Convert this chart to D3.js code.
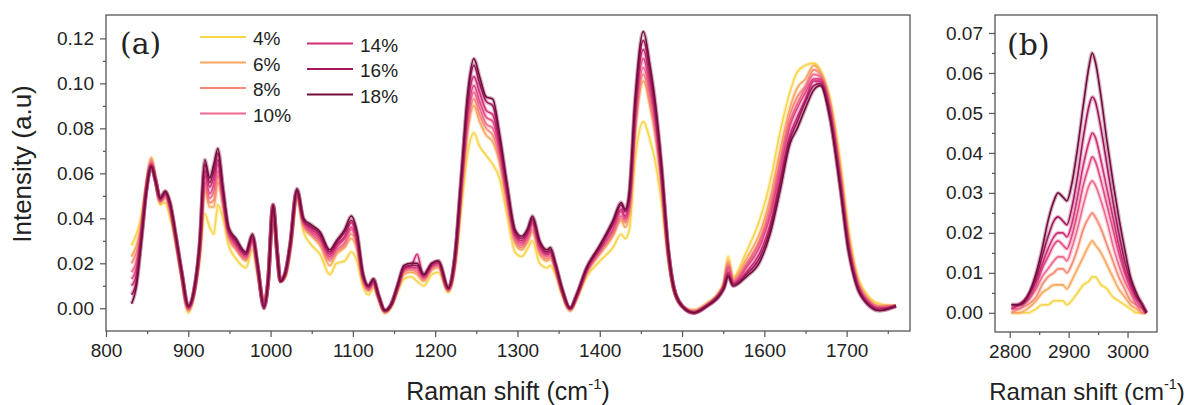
<!DOCTYPE html>
<html>
<head>
<meta charset="utf-8">
<script src="https://cdn.jsdelivr.net/npm/d3@7"></script>
<style>
body { margin: 0; background: #fff; }
text { font-family: "Liberation Sans", Arial, sans-serif; fill: #222; }
</style>
</head>
<body>
<div id="chart"></div>
<script>
// Data : panel (a) fingerprint region
var wnA = [831, 837, 843, 849, 855, 860, 866, 872, 878, 885,
    892, 900, 907, 914, 920, 926, 931, 936, 942, 949,
    958, 970, 978, 984, 992, 997, 1003, 1008, 1012, 1018,
    1024, 1032, 1040, 1050, 1060, 1072, 1080, 1090, 1098, 1105,
    1112, 1119, 1125, 1131, 1139, 1147, 1155, 1162, 1171, 1178,
    1186, 1196, 1204, 1216, 1224, 1232, 1240, 1247, 1254, 1262,
    1270, 1278, 1287, 1297, 1305, 1313, 1318, 1327, 1336, 1340,
    1346, 1354, 1364, 1372, 1384, 1400, 1416, 1426, 1431, 1436,
    1443, 1453, 1461, 1467, 1475, 1483, 1490, 1500, 1514, 1530,
    1546, 1551, 1556, 1562, 1578, 1595, 1607, 1619, 1631, 1640,
    1650, 1660, 1668, 1680, 1692, 1702, 1712, 1725, 1740, 1760];

var a04 = [0.028, 0.033, 0.041, 0.055, 0.066, 0.058, 0.046, 0.047, 0.040, 0.028,
    0.013, -0.002, 0.006, 0.022, 0.042, 0.036, 0.033, 0.046, 0.040, 0.028,
    0.022, 0.018, 0.026, 0.015, 0.004, 0.012, 0.044, 0.024, 0.012, 0.014,
    0.026, 0.050, 0.034, 0.028, 0.024, 0.015, 0.020, 0.021, 0.025, 0.021,
    0.010, 0.006, 0.009, 0.004, -0.002, 0.001, 0.008, 0.013, 0.014, 0.012,
    0.010, 0.015, 0.016, 0.007, 0.018, 0.045, 0.070, 0.078, 0.072, 0.068,
    0.064, 0.058, 0.042, 0.025, 0.023, 0.027, 0.030, 0.020, 0.018, 0.019,
    0.015, 0.006, -0.001, 0.004, 0.014, 0.021, 0.027, 0.033, 0.031, 0.035,
    0.066, 0.083, 0.075, 0.066, 0.047, 0.022, 0.008, 0.001, -0.001, 0.002,
    0.008, 0.012, 0.023, 0.014, 0.025, 0.040, 0.056, 0.078, 0.096, 0.105,
    0.108, 0.109, 0.106, 0.093, 0.066, 0.036, 0.016, 0.006, 0.002, 0.001];
var a06 = [0.023, 0.028, 0.038, 0.054, 0.067, 0.058, 0.047, 0.049, 0.043, 0.030,
    0.014, -0.001, 0.007, 0.025, 0.052, 0.045, 0.045, 0.056, 0.046, 0.031,
    0.026, 0.021, 0.029, 0.017, 0.002, 0.012, 0.045, 0.024, 0.012, 0.015,
    0.027, 0.051, 0.036, 0.032, 0.028, 0.019, 0.024, 0.027, 0.031, 0.026,
    0.012, 0.008, 0.011, 0.005, -0.002, 0.001, 0.009, 0.015, 0.016, 0.015,
    0.012, 0.017, 0.018, 0.008, 0.020, 0.051, 0.080, 0.090, 0.083, 0.077,
    0.074, 0.065, 0.047, 0.029, 0.026, 0.030, 0.034, 0.024, 0.021, 0.022,
    0.017, 0.007, -0.001, 0.005, 0.016, 0.024, 0.032, 0.039, 0.036, 0.042,
    0.078, 0.101, 0.090, 0.078, 0.055, 0.024, 0.008, 0.001, -0.001, 0.002,
    0.007, 0.011, 0.021, 0.013, 0.022, 0.034, 0.049, 0.070, 0.089, 0.098,
    0.102, 0.108, 0.105, 0.091, 0.062, 0.033, 0.014, 0.005, 0.001, 0.001];
var a08 = [0.020, 0.025, 0.036, 0.054, 0.066, 0.058, 0.047, 0.050, 0.044, 0.030,
    0.015, -0.001, 0.007, 0.026, 0.054, 0.047, 0.048, 0.059, 0.047, 0.032,
    0.027, 0.022, 0.030, 0.018, 0.002, 0.012, 0.045, 0.024, 0.012, 0.015,
    0.027, 0.051, 0.037, 0.033, 0.029, 0.021, 0.025, 0.028, 0.033, 0.028,
    0.013, 0.008, 0.011, 0.005, -0.002, 0.002, 0.010, 0.016, 0.017, 0.016,
    0.013, 0.018, 0.019, 0.008, 0.021, 0.053, 0.082, 0.093, 0.086, 0.080,
    0.077, 0.067, 0.048, 0.030, 0.027, 0.031, 0.035, 0.025, 0.022, 0.023,
    0.018, 0.008, -0.001, 0.005, 0.016, 0.025, 0.033, 0.040, 0.038, 0.044,
    0.080, 0.104, 0.092, 0.080, 0.056, 0.025, 0.009, 0.001, -0.001, 0.002,
    0.007, 0.011, 0.020, 0.012, 0.020, 0.031, 0.046, 0.066, 0.086, 0.094,
    0.099, 0.106, 0.104, 0.090, 0.061, 0.031, 0.013, 0.004, 0.001, 0.001];
var a10 = [0.016, 0.021, 0.035, 0.053, 0.065, 0.057, 0.048, 0.050, 0.044, 0.030,
    0.015, 0.000, 0.007, 0.027, 0.056, 0.049, 0.052, 0.061, 0.048, 0.033,
    0.027, 0.022, 0.030, 0.018, 0.002, 0.012, 0.045, 0.025, 0.012, 0.015,
    0.028, 0.052, 0.038, 0.033, 0.030, 0.022, 0.026, 0.029, 0.035, 0.029,
    0.014, 0.008, 0.011, 0.005, -0.001, 0.002, 0.010, 0.017, 0.018, 0.017,
    0.013, 0.018, 0.019, 0.008, 0.021, 0.054, 0.085, 0.096, 0.089, 0.082,
    0.080, 0.069, 0.050, 0.031, 0.028, 0.032, 0.037, 0.026, 0.023, 0.024,
    0.018, 0.008, 0.000, 0.005, 0.016, 0.025, 0.034, 0.041, 0.039, 0.045,
    0.082, 0.107, 0.095, 0.082, 0.057, 0.025, 0.009, 0.001, -0.002, 0.001,
    0.007, 0.010, 0.019, 0.012, 0.019, 0.030, 0.043, 0.064, 0.083, 0.091,
    0.098, 0.104, 0.103, 0.089, 0.059, 0.030, 0.013, 0.004, 0.000, 0.001];
var a12 = [0.013, 0.018, 0.034, 0.053, 0.064, 0.057, 0.048, 0.051, 0.045, 0.031,
    0.015, 0.000, 0.007, 0.028, 0.059, 0.051, 0.055, 0.064, 0.050, 0.034,
    0.028, 0.023, 0.031, 0.019, 0.001, 0.012, 0.045, 0.025, 0.012, 0.015,
    0.028, 0.052, 0.038, 0.034, 0.031, 0.023, 0.027, 0.031, 0.036, 0.030,
    0.014, 0.009, 0.012, 0.005, -0.001, 0.002, 0.010, 0.017, 0.018, 0.018,
    0.014, 0.019, 0.020, 0.008, 0.022, 0.056, 0.087, 0.099, 0.092, 0.085,
    0.083, 0.071, 0.051, 0.032, 0.029, 0.033, 0.038, 0.027, 0.024, 0.025,
    0.019, 0.008, 0.000, 0.005, 0.017, 0.026, 0.035, 0.043, 0.040, 0.047,
    0.085, 0.111, 0.098, 0.085, 0.059, 0.026, 0.009, 0.001, -0.002, 0.001,
    0.007, 0.010, 0.018, 0.011, 0.018, 0.028, 0.041, 0.061, 0.081, 0.089,
    0.096, 0.102, 0.102, 0.088, 0.058, 0.029, 0.012, 0.003, 0.000, 0.001];
var a14 = [0.010, 0.015, 0.032, 0.053, 0.064, 0.057, 0.048, 0.051, 0.046, 0.031,
    0.016, 0.000, 0.008, 0.028, 0.061, 0.054, 0.058, 0.066, 0.051, 0.034,
    0.029, 0.024, 0.032, 0.019, 0.001, 0.012, 0.046, 0.025, 0.012, 0.016,
    0.028, 0.052, 0.039, 0.035, 0.032, 0.024, 0.028, 0.032, 0.038, 0.031,
    0.015, 0.009, 0.012, 0.006, -0.001, 0.002, 0.010, 0.018, 0.019, 0.024,
    0.014, 0.019, 0.020, 0.009, 0.022, 0.057, 0.091, 0.103, 0.096, 0.088,
    0.086, 0.073, 0.053, 0.033, 0.030, 0.034, 0.039, 0.028, 0.024, 0.025,
    0.019, 0.008, 0.000, 0.006, 0.017, 0.027, 0.037, 0.044, 0.041, 0.049,
    0.088, 0.115, 0.101, 0.088, 0.061, 0.026, 0.009, 0.001, -0.002, 0.001,
    0.006, 0.010, 0.016, 0.011, 0.016, 0.025, 0.037, 0.057, 0.077, 0.085,
    0.093, 0.101, 0.101, 0.086, 0.056, 0.028, 0.011, 0.003, 0.000, 0.001];
var a16 = [0.006, 0.012, 0.031, 0.052, 0.063, 0.057, 0.049, 0.052, 0.046, 0.032,
    0.016, 0.001, 0.008, 0.029, 0.064, 0.056, 0.061, 0.069, 0.053, 0.035,
    0.030, 0.024, 0.032, 0.020, 0.000, 0.012, 0.046, 0.025, 0.012, 0.016,
    0.029, 0.053, 0.039, 0.036, 0.033, 0.025, 0.029, 0.034, 0.039, 0.033,
    0.015, 0.010, 0.013, 0.006, -0.001, 0.002, 0.011, 0.018, 0.019, 0.019,
    0.015, 0.020, 0.021, 0.009, 0.023, 0.059, 0.095, 0.108, 0.100, 0.092,
    0.090, 0.076, 0.055, 0.034, 0.031, 0.035, 0.040, 0.029, 0.025, 0.026,
    0.020, 0.009, 0.000, 0.006, 0.018, 0.027, 0.038, 0.046, 0.043, 0.050,
    0.090, 0.119, 0.105, 0.090, 0.062, 0.027, 0.009, 0.001, -0.002, 0.001,
    0.006, 0.009, 0.015, 0.010, 0.015, 0.023, 0.035, 0.055, 0.075, 0.083,
    0.092, 0.099, 0.100, 0.085, 0.055, 0.027, 0.011, 0.002, -0.001, 0.001];
var a18 = [0.002, 0.010, 0.030, 0.052, 0.063, 0.057, 0.049, 0.052, 0.047, 0.032,
    0.016, 0.001, 0.008, 0.030, 0.066, 0.058, 0.064, 0.071, 0.054, 0.036,
    0.031, 0.025, 0.033, 0.020, 0.000, 0.012, 0.046, 0.025, 0.012, 0.016,
    0.029, 0.053, 0.040, 0.037, 0.034, 0.026, 0.030, 0.035, 0.041, 0.034,
    0.016, 0.010, 0.013, 0.006, -0.001, 0.002, 0.011, 0.019, 0.020, 0.020,
    0.015, 0.020, 0.021, 0.009, 0.023, 0.060, 0.097, 0.111, 0.103, 0.094,
    0.093, 0.078, 0.056, 0.035, 0.032, 0.036, 0.041, 0.030, 0.026, 0.027,
    0.020, 0.009, 0.000, 0.006, 0.018, 0.028, 0.039, 0.047, 0.044, 0.052,
    0.093, 0.123, 0.108, 0.093, 0.064, 0.027, 0.009, 0.001, -0.002, 0.001,
    0.006, 0.009, 0.014, 0.010, 0.014, 0.021, 0.033, 0.052, 0.073, 0.080,
    0.089, 0.097, 0.099, 0.084, 0.054, 0.026, 0.010, 0.002, -0.001, 0.001];

// Data : panel (b) CH stretching region
var wnB = [2803, 2815, 2830, 2845, 2855, 2865, 2875, 2882, 2890, 2897,
    2905, 2915, 2925, 2935, 2940, 2945, 2955, 2965, 2975, 2985,
    2995, 3005, 3015, 3025, 3032];
var b04 = [0.000, 0.000, 0.000, 0.001, 0.002, 0.002, 0.003, 0.003, 0.003, 0.002,
    0.003, 0.005, 0.007, 0.008, 0.009, 0.009, 0.007, 0.006, 0.004, 0.003,
    0.002, 0.001, 0.000, 0.000, 0.000];
var b06 = [0.000, 0.000, 0.001, 0.003, 0.005, 0.006, 0.007, 0.007, 0.007, 0.006,
    0.008, 0.011, 0.014, 0.017, 0.018, 0.017, 0.015, 0.012, 0.009, 0.006,
    0.004, 0.002, 0.001, 0.000, 0.000];
var b08 = [0.000, 0.001, 0.002, 0.004, 0.007, 0.009, 0.010, 0.011, 0.011, 0.010,
    0.012, 0.016, 0.021, 0.024, 0.025, 0.024, 0.021, 0.017, 0.013, 0.009,
    0.006, 0.003, 0.002, 0.000, 0.000];
var b10 = [0.001, 0.001, 0.003, 0.006, 0.009, 0.011, 0.013, 0.014, 0.014, 0.013,
    0.016, 0.021, 0.027, 0.032, 0.033, 0.032, 0.028, 0.023, 0.017, 0.012,
    0.008, 0.005, 0.002, 0.001, 0.000];
var b12 = [0.001, 0.002, 0.003, 0.007, 0.011, 0.014, 0.017, 0.018, 0.017, 0.016,
    0.019, 0.025, 0.032, 0.037, 0.039, 0.038, 0.033, 0.027, 0.021, 0.015,
    0.010, 0.006, 0.003, 0.001, 0.000];
var b14 = [0.001, 0.002, 0.004, 0.008, 0.012, 0.016, 0.019, 0.020, 0.020, 0.019,
    0.022, 0.029, 0.037, 0.043, 0.045, 0.044, 0.038, 0.031, 0.024, 0.017,
    0.011, 0.007, 0.004, 0.002, 0.000];
var b16 = [0.002, 0.002, 0.004, 0.009, 0.014, 0.019, 0.023, 0.024, 0.023, 0.022,
    0.026, 0.034, 0.044, 0.052, 0.054, 0.053, 0.046, 0.037, 0.028, 0.020,
    0.013, 0.008, 0.004, 0.002, 0.000];
var b18 = [0.002, 0.002, 0.004, 0.010, 0.016, 0.023, 0.028, 0.030, 0.029, 0.028,
    0.032, 0.041, 0.052, 0.062, 0.065, 0.063, 0.054, 0.043, 0.033, 0.024,
    0.016, 0.009, 0.005, 0.002, 0.000];

var seriesNames  = ["4%", "6%", "8%", "10%", "12%", "14%", "16%", "18%"];
var seriesColors = ["#f7d548", "#f8a85c", "#f68a73", "#ef6a8c", "#e24882", "#cf2f76", "#a3185c", "#730d3d"];
var seriesA      = [a04, a06, a08, a10, a12, a14, a16, a18];
var seriesB      = [b04, b06, b08, b10, b12, b14, b16, b18];
var legendNames  = ["4%", "6%", "8%", "10%", "14%", "16%", "18%"];

var xTicksA = [800, 900, 1000, 1100, 1200, 1300, 1400, 1500, 1600, 1700];
var yTicksA = [0, 0.02, 0.04, 0.06, 0.08, 0.10, 0.12];
var xTicksB = [2800, 2900, 3000];
var yTicksB = [0, 0.01, 0.02, 0.03, 0.04, 0.05, 0.06, 0.07];

var chart_width  = 1189;
var chart_height = 405;

var svg = d3.select("#chart")
    .append("svg")
    .attr("width", chart_width)
    .attr("height", chart_height);

// draws one framed panel, returns scales
function drawPanel(box, xDom, yDom, xTicks, yTicks, xMinor, yMinor, wn, series) {
    var x = d3.scaleLinear().domain(xDom).range([box.left, box.right]);
    var y = d3.scaleLinear().domain(yDom).range([box.bottom, box.top]);

    var g = svg.append("g");

    // curves, light first so dark sits on top
    var line = d3.line()
        .x(function(d) { return x(d[0]); })
        .y(function(d) { return y(d[1]); })
        .curve(d3.curveMonotoneX);

    series.forEach(function(vals, i) {
        var pts = wn.map(function(w, j) { return [w, vals[j]]; });
        g.append("path")
            .attr("d", line(pts))
            .attr("fill", "none")
            .attr("stroke", seriesColors[i])
            .attr("stroke-opacity", 0.3)
            .attr("stroke-width", 4);
        g.append("path")
            .attr("d", line(pts))
            .attr("fill", "none")
            .attr("stroke", seriesColors[i])
            .attr("stroke-width", 1.6);
    });

    // minor ticks
    g.append("g")
        .attr("transform", "translate(0," + box.bottom + ")")
        .call(d3.axisBottom(x).tickValues(xMinor).tickSize(3).tickSizeOuter(0).tickFormat(""))
        .call(styleAxis);
    g.append("g")
        .attr("transform", "translate(" + box.left + ",0)")
        .call(d3.axisLeft(y).tickValues(yMinor).tickSize(3).tickSizeOuter(0).tickFormat(""))
        .call(styleAxis);

    // major ticks
    g.append("g")
        .attr("transform", "translate(0," + box.bottom + ")")
        .call(d3.axisBottom(x).tickValues(xTicks).tickSize(6).tickSizeOuter(0).tickPadding(7).tickFormat(d3.format("d")))
        .call(styleAxis);
    g.append("g")
        .attr("transform", "translate(" + box.left + ",0)")
        .call(d3.axisLeft(y).tickValues(yTicks).tickSize(6).tickSizeOuter(0).tickPadding(6).tickFormat(d3.format(".2f")))
        .call(styleAxis);

    // frame
    g.append("rect")
        .attr("x", box.left)
        .attr("y", box.top)
        .attr("width", box.right - box.left)
        .attr("height", box.bottom - box.top)
        .attr("fill", "none")
        .attr("stroke", "#555")
        .attr("stroke-width", 1.3);

    return { x: x, y: y };
}

function styleAxis(sel) {
    sel.select(".domain").remove();
    sel.selectAll(".tick line").attr("stroke", "#555").attr("stroke-width", 1.2);
    sel.selectAll(".tick text")
        .attr("fill", "#222")
        .style("font-size", "19px")
        .style("font-family", "'Liberation Sans', Arial, sans-serif");
}

// Panel (a)
var boxA = { left: 106, right: 910, top: 15, bottom: 331 };
drawPanel(boxA, [800, 1777], [-0.0101, 0.1304], xTicksA, yTicksA,
    [850, 950, 1050, 1150, 1250, 1350, 1450, 1550, 1650, 1750],
    [0.01, 0.03, 0.05, 0.07, 0.09, 0.11],
    wnA, seriesA);

// Panel (b)
var boxB = { left: 995, right: 1157, top: 15, bottom: 332 };
drawPanel(boxB, [2775, 3050], [-0.0048, 0.0745], xTicksB, yTicksB,
    [2850, 2950],
    [0.005, 0.015, 0.025, 0.035, 0.045, 0.055, 0.065],
    wnB, seriesB);

// Panel letters
svg.append("text").attr("x", 120).attr("y", 54)
    .style("font-family", "'DejaVu Serif', serif").style("font-size", "30px")
    .text("(a)");
svg.append("text").attr("x", 1007).attr("y", 55)
    .style("font-family", "'DejaVu Serif', serif").style("font-size", "30px")
    .text("(b)");

// Legend, two columns
var legendPos = [
    { x: 200, y: 37 }, { x: 200, y: 62.5 }, { x: 200, y: 88 }, { x: 200, y: 113.5 },
    { x: 307, y: 43.5 }, { x: 307, y: 69 }, { x: 307, y: 94.5 }
];
legendNames.forEach(function(name, i) {
    var idx = seriesNames.indexOf(name);
    var p = legendPos[i];
    svg.append("line")
        .attr("x1", p.x).attr("x2", p.x + 46)
        .attr("y1", p.y).attr("y2", p.y)
        .attr("stroke", seriesColors[idx])
        .attr("stroke-width", 2);
    svg.append("text")
        .attr("x", p.x + 53).attr("y", p.y + 8)
        .style("font-size", "19px")
        .text(name);
});

// Axis titles
svg.append("text")
    .attr("transform", "translate(31,164) rotate(-90)")
    .attr("text-anchor", "middle")
    .style("font-size", "26px")
    .text("Intensity (a.u)");

function ramanLabel(cx, size) {
    var t = svg.append("text")
        .attr("x", cx).attr("y", 400)
        .attr("text-anchor", "middle")
        .style("font-size", size + "px");
    t.append("tspan").text("Raman shift (cm");
    t.append("tspan").attr("dy", -size * 0.45).style("font-size", (size * 0.6) + "px").text("-1");
    t.append("tspan").attr("dy", size * 0.45).text(")");
}
ramanLabel(508, 25);
ramanLabel(1087, 24);
</script>
</body>
</html>
